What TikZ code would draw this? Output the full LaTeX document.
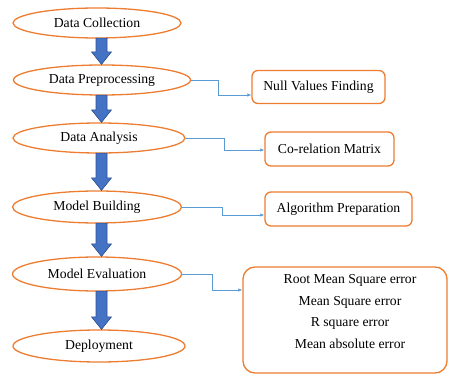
\documentclass[tikz,border=0pt]{standalone}
\usepackage{fontspec}
\setmainfont{Liberation Serif}
\usetikzlibrary{shapes.geometric,calc,arrows.meta}
\definecolor{oborder}{RGB}{237,125,49}
\definecolor{bfill}{RGB}{68,114,196}
\definecolor{bdraw}{RGB}{47,82,143}
\definecolor{lblue}{RGB}{91,155,213}
\tikzset{
  stage/.style={ellipse, draw=oborder, line width=1.3pt, fill=white, inner sep=0pt, font=\fontsize{13.7}{16}\selectfont},
  infobox/.style={rectangle, rounded corners=6pt, draw=oborder, line width=1.3pt, fill=white, inner sep=0pt, font=\fontsize{13.7}{16}\selectfont},
  blockarrow/.style={draw=bdraw, fill=bfill, line width=0.6pt, line join=miter},
  link/.style={draw=lblue, line width=0.7pt, -{Latex[length=4pt,width=3.5pt]}},
}
\begin{document}
\begin{tikzpicture}[x=1pt,y=-1pt]
\useasboundingbox (0,0) rectangle (449,374);
\clip (0,0) rectangle (449,374);
\node[stage, minimum width=168pt, minimum height=30pt] (dc) at (97,23) {Data Collection};
\node[stage, minimum width=177pt, minimum height=30pt] (dp) at (102,80) {Data Preprocessing};
\node[stage, minimum width=172pt, minimum height=30pt] (da) at (99,138) {Data Analysis};
\node[stage, minimum width=169pt, minimum height=32pt] (mb) at (97,207) {Model Building};
\node[stage, minimum width=169pt, minimum height=34pt] (me) at (97,274) {Model Evaluation};
\node[stage, minimum width=172pt, minimum height=32pt] (de) at (99,346) {Deployment};

\foreach \u/\v in {dc/dp, dp/da, da/mb, mb/me, me/de}{
  \draw[blockarrow] let \p1=(\u.south), \p2=(\v.north) in
    (96pt,{\y1+0.5pt}) -- (107pt,{\y1+0.5pt}) -- (107pt,{\y2+12.5pt}) -- (111.5pt,{\y2+12.5pt})
    -- (101.5pt,{\y2}) -- (91.5pt,{\y2+12.5pt}) -- (96pt,{\y2+12.5pt}) -- cycle;
}

\node[infobox, minimum width=133pt, minimum height=33pt] (nv) at (318.5,87) {Null Values Finding};
\node[infobox, minimum width=129pt, minimum height=34pt] (cm) at (329.5,149) {Co-relation Matrix};
\node[infobox, minimum width=147pt, minimum height=34pt] (ap) at (338.5,209) {Algorithm Preparation};
\node[infobox, minimum width=204pt, minimum height=106pt, rounded corners=12pt] (er) at (345,320) {};
\node[font=\fontsize{13.7}{16}\selectfont, align=center, inner sep=0pt] (ertext) at (350,311.5)
  {Root Mean Square error\\[5.5pt]Mean Square error\\[5.5pt]R square error\\[5.5pt]Mean absolute error};

\draw[link] (dp.east) -- (218,80) |- ([yshift=-8pt]nv.west);
\draw[link] (da.east) -- (224,138) |- ([yshift=-1pt]cm.west);
\draw[link] (mb.east) -- (222,207) |- ([yshift=-6pt]ap.west);
\draw[link] (me.east) -- (212,274) |- ([yshift=30pt]er.west);
\end{tikzpicture}
\end{document}
